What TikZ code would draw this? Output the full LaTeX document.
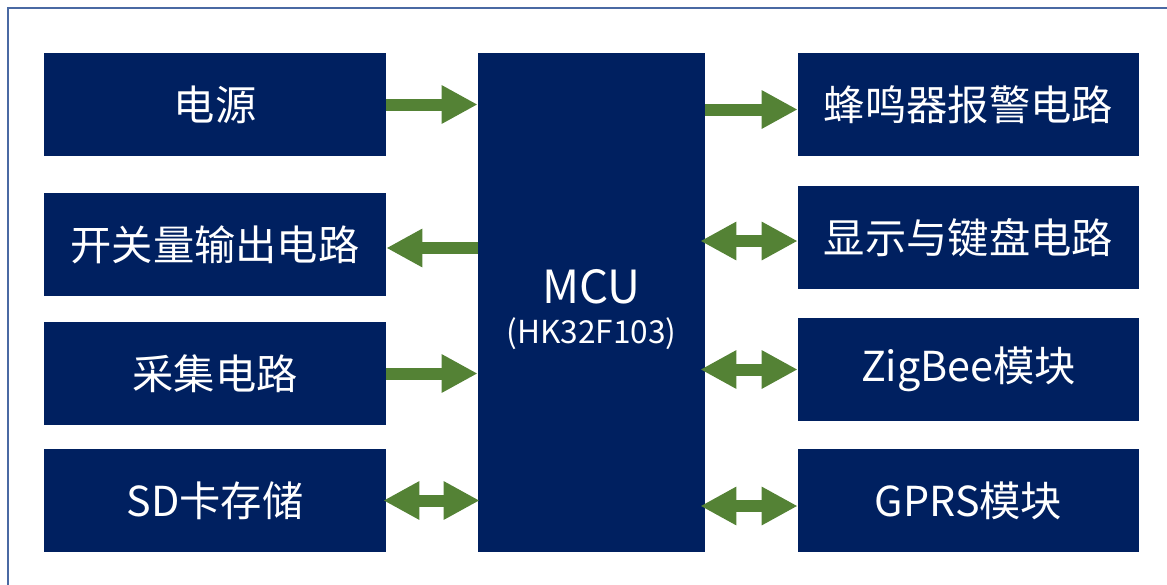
\documentclass[tikz,border=0pt]{standalone}
\usepackage{fontspec}
\setmainfont{Noto Sans CJK SC}
\usetikzlibrary{arrows.meta}
\definecolor{boxblue}{HTML}{002060}
\definecolor{arrowgreen}{HTML}{548235}
\definecolor{frameblue}{HTML}{4A69A3}
\tikzset{
	block/.style={fill=boxblue,text=white,inner sep=0pt,minimum width=6.84cm,minimum height=2.06cm,font=\fontsize{23.5}{28}\selectfont},
	link/.style={draw=arrowgreen,line width=0.24cm,-{Triangle[length=0.72cm,width=0.72cm]}},
	duplex/.style={draw=arrowgreen,line width=0.24cm,{Triangle[length=0.72cm,width=0.72cm]}-{Triangle[length=0.72cm,width=0.72cm]}}
}
\begin{document}
\begin{tikzpicture}[x=0.02cm,y=-0.02cm]
	\useasboundingbox (0,0) rectangle (1167,585);
	\draw[frameblue,line width=0.04cm] (8,8) rectangle (1190,610);
	% left column
	\node[block] (power) at (215,104.5) {电源};
	\node[block] (switch) at (215,244.5) {开关量输出电路};
	\node[block] (sample) at (215,373.5) {采集电路};
	\node[block] (sdcard) at (215,500.5) {SD卡存储};
	% controller
	\node[block,minimum width=4.54cm,minimum height=9.98cm,
		label={[text=white,align=center,yshift=-0.14cm,font=\fontsize{26}{30}\selectfont]center:MCU\\[-7pt]{\fontsize{18}{22}\selectfont (HK32F103)}}] (mcu) at (591.5,302.5) {};
	% right column
	\node[block,minimum width=6.82cm] (buzzer) at (968.5,104.5) {蜂鸣器报警电路};
	\node[block,minimum width=6.82cm] (display) at (968.5,237.5) {显示与键盘电路};
	\node[block,minimum width=6.82cm] (zigbee) at (968.5,369.5) {ZigBee模块};
	\node[block,minimum width=6.82cm] (gprs) at (968.5,500.5) {GPRS模块};
	% connections
	\draw[link] (power.east) -- (power.east -| mcu.west);
	\draw[link] ([yshift=-0.07cm]switch.east -| mcu.west) -- ([yshift=-0.07cm]switch.east);
	\draw[link] (sample.east) -- (sample.east -| mcu.west);
	\draw[duplex] ([xshift=-0.06cm]sdcard.east) -- ([xshift=0.04cm]sdcard.east -| mcu.west);
	\draw[link] ([yshift=-0.1cm]buzzer.west -| mcu.east) -- ([yshift=-0.1cm]buzzer.west);
	\draw[duplex] ([yshift=-0.07cm,xshift=-0.1cm]display.west -| mcu.east) -- ([yshift=-0.07cm]display.west);
	\draw[duplex] ([xshift=-0.1cm]zigbee.west -| mcu.east) -- (zigbee.west);
	\draw[duplex] ([yshift=-0.11cm,xshift=-0.1cm]gprs.west -| mcu.east) -- ([yshift=-0.11cm]gprs.west);
\end{tikzpicture}
\end{document}
